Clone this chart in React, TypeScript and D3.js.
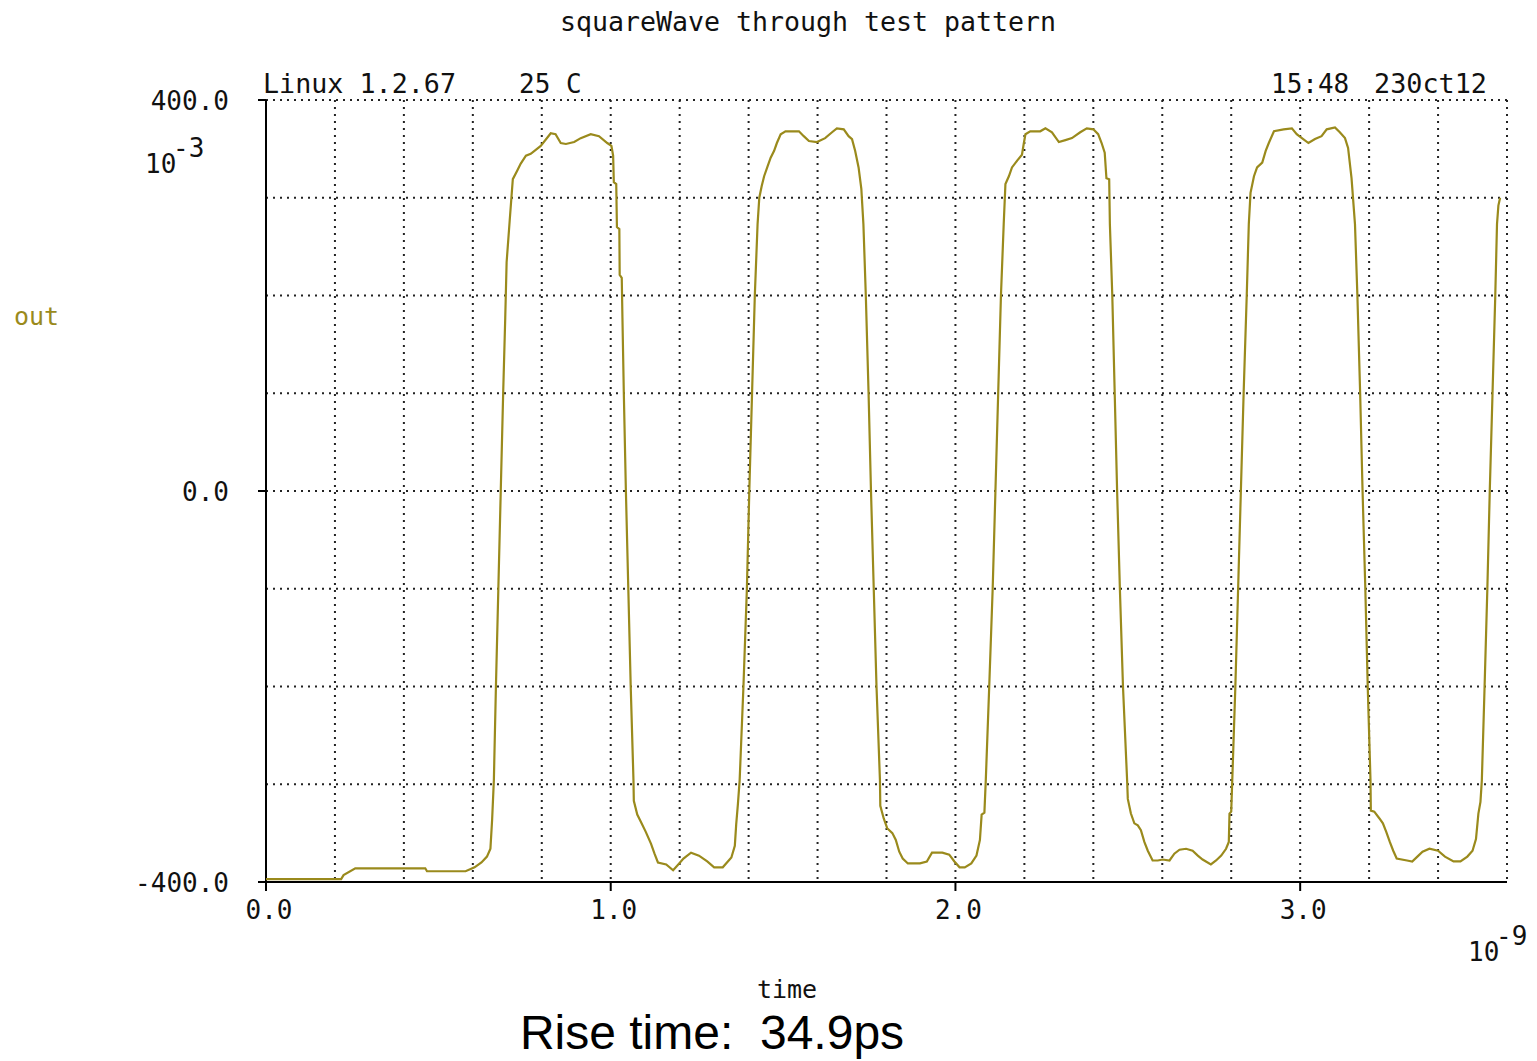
import React from "react";
import * as d3 from "d3";

const timeNs: number[] = [
  0, 0.218, 0.225, 0.259, 0.462, 0.467, 0.579, 0.605, 0.625, 0.641, 0.651, 0.656, 0.661,
  0.667, 0.674, 0.681, 0.688, 0.694, 0.698, 0.707, 0.716, 0.729, 0.739, 0.754, 0.768, 0.797, 0.826, 0.84, 0.855, 0.87, 0.894, 0.913, 0.942, 0.966, 0.99, 1.002, 1.007, 1.009, 1.016, 1.018, 1.025, 1.026, 1.032, 1.034,
  1.038, 1.044, 1.051, 1.058, 1.066, 1.067, 1.077, 1.087, 1.102, 1.117, 1.127, 1.137, 1.161, 1.181, 1.196, 1.211, 1.233, 1.256, 1.28, 1.3, 1.325, 1.35, 1.36, 1.364, 1.369, 1.374,
  1.385, 1.395, 1.402, 1.41, 1.418, 1.426, 1.431, 1.438, 1.445, 1.455, 1.464, 1.474, 1.482, 1.493, 1.507, 1.546, 1.56, 1.575, 1.598, 1.622, 1.642, 1.656, 1.676, 1.69, 1.7, 1.709, 1.719, 1.727, 1.733,
  1.74, 1.748, 1.755, 1.763, 1.771, 1.781, 1.782, 1.792, 1.802, 1.817, 1.827, 1.837, 1.847, 1.862, 1.897, 1.917, 1.932, 1.962, 1.982, 1.997, 2.012, 2.027, 2.046, 2.061, 2.071, 2.076, 2.084, 2.088,
  2.098, 2.108, 2.116, 2.124, 2.132, 2.14, 2.145, 2.155, 2.164, 2.179, 2.193, 2.198, 2.203, 2.217, 2.246, 2.261, 2.28, 2.3, 2.319, 2.338, 2.362, 2.381, 2.4, 2.414, 2.424, 2.433, 2.438, 2.446, 2.448,
  2.455, 2.462, 2.469, 2.477, 2.486, 2.498, 2.5, 2.509, 2.519, 2.529, 2.538, 2.548, 2.558, 2.572, 2.587, 2.601, 2.621, 2.635, 2.65, 2.669, 2.688, 2.703, 2.717, 2.741, 2.756, 2.771, 2.785, 2.793, 2.795, 2.8, 2.803,
  2.812, 2.82, 2.828, 2.836, 2.845, 2.851, 2.856, 2.866, 2.875, 2.89, 2.9, 2.909, 2.924, 2.952, 2.976, 2.99, 3.005, 3.024, 3.043, 3.062, 3.077, 3.101, 3.115, 3.13, 3.139, 3.149, 3.159,
  3.166, 3.174, 3.181, 3.189, 3.196, 3.204, 3.205, 3.215, 3.23, 3.24, 3.25, 3.26, 3.27, 3.28, 3.31, 3.325, 3.34, 3.355, 3.375, 3.4, 3.42, 3.445, 3.465, 3.485, 3.5, 3.51, 3.517, 3.523, 3.527,
  3.535, 3.543, 3.55, 3.558, 3.566, 3.571, 3.575, 3.58,
];

const outMv: number[] = [
  -397, -397, -393, -386, -386, -389, -389, -385, -380, -374, -366, -336, -296,
  -200, -100, 0, 100, 177, 234, 277, 319, 328, 335, 343, 345, 353, 366, 365, 356, 355, 357, 361, 365, 363, 356, 353, 343, 316, 314, 270, 268, 221, 218, 177,
  100, 0, -100, -200, -296, -317, -331, -338, -349, -361, -371, -380, -382, -388, -382, -376, -370, -373, -379, -385, -385, -375, -363, -341, -320, -296,
  -200, -100, 0, 100, 200, 273, 300, 312, 322, 332, 341, 348, 356, 365, 368, 368, 363, 358, 357, 361, 367, 371, 370, 363, 360, 348, 331, 309, 273,
  200, 100, 0, -100, -200, -296, -322, -335, -345, -350, -357, -369, -376, -381, -381, -379, -370, -370, -372, -379, -385, -385, -381, -373, -357, -331, -329, -296,
  -200, -100, 0, 100, 200, 273, 314, 322, 331, 338, 344, 355, 365, 368, 368, 371, 367, 357, 359, 361, 367, 371, 370, 365, 356, 346, 320, 319, 273,
  200, 100, 0, -100, -200, -296, -315, -330, -340, -342, -347, -359, -368, -378, -378, -377, -378, -371, -367, -366, -368, -373, -377, -382, -378, -373, -366, -359, -330, -328, -296,
  -200, -100, 0, 100, 200, 273, 305, 322, 331, 336, 348, 356, 368, 370, 371, 365, 361, 356, 360, 363, 370, 372, 367, 361, 351, 320, 273,
  200, 100, 0, -100, -200, -296, -327, -328, -335, -340, -349, -359, -368, -376, -378, -379, -374, -369, -366, -368, -374, -379, -379, -374, -368, -356, -330, -318, -296,
  -200, -100, 0, 100, 200, 273, 292, 300,
];

const xGridValues: number[] = d3.range(1, 19).map((i) => i * 0.2);
const yGridValues: number[] = [-300, -200, -100, 0, 100, 200, 300, 400];
const xTickValues: number[] = [0, 1, 2, 3];
const xTickLabels: string[] = ["0.0", "1.0", "2.0", "3.0"];
const yTickValues: number[] = [400, 0, -400];
const yTickLabels: string[] = ["400.0", "0.0", "-400.0"];

const W = 1537;
const H = 1061;
const MONO = "'DejaVu Sans Mono', 'Liberation Mono', monospace";
const OLIVE = "#9a8a1c";

export default function App() {
  const x = d3.scaleLinear().domain([0, 3.6]).range([266, 1507]);
  const y = d3.scaleLinear().domain([-400, 400]).range([882, 100]);
  const pts: [number, number][] = timeNs.map((t, i) => [t, outMv[i]]);
  const line = d3
    .line<[number, number]>()
    .x((d) => x(d[0]))
    .y((d) => y(d[1]))
    .curve(d3.curveLinear);

  const dot = { stroke: "#222", strokeWidth: 2, strokeDasharray: "2 5" };

  return (
    <svg
      width={W}
      height={H}
      viewBox={`0 0 ${W} ${H}`}
      style={{ position: "absolute", left: 0, top: 0, background: "#fff" }}
      fontFamily={MONO}
    >
      <rect x={0} y={0} width={W} height={H} fill="#fff" />
      <text x={560} y={31} fontSize={26} textLength={496} lengthAdjust="spacingAndGlyphs" fill="#111">
        squareWave through test pattern
      </text>
      <text x={263} y={93} fontSize={26} textLength={193} lengthAdjust="spacingAndGlyphs" fill="#111">Linux 1.2.67</text>
      <text x={519} y={93} fontSize={26} fill="#111">25 C</text>
      <text x={1271} y={93} fontSize={26} fill="#111">15:48</text>
      <text x={1374} y={93} fontSize={26} textLength={113} lengthAdjust="spacingAndGlyphs" fill="#111">230ct12</text>

      {/* grid */}
      {yGridValues.map((v) => (
        <line key={"hy" + v} x1={x(0)} x2={x(3.6)} y1={y(v)} y2={y(v)} {...dot} />
      ))}
      {xGridValues.map((v) => (
        <line key={"vx" + v} x1={x(v)} x2={x(v)} y1={y(400)} y2={y(-400)} {...dot} />
      ))}

      {/* axes */}
      <line x1={x(0)} x2={x(0)} y1={y(400)} y2={y(-400) + 1} stroke="#000" strokeWidth={2} />
      <line x1={x(0)} x2={x(3.6)} y1={y(-400)} y2={y(-400)} stroke="#000" strokeWidth={2} />
      {xTickValues.map((v, i) => (
        <g key={"xt" + v}>
          <line x1={x(v)} x2={x(v)} y1={y(-400)} y2={y(-400) + 9} stroke="#000" strokeWidth={2} />
          <text x={x(v) + 3} y={919} fontSize={26} textAnchor="middle" fill="#111">
            {xTickLabels[i]}
          </text>
        </g>
      ))}
      {yTickValues.map((v, i) => (
        <g key={"yt" + v}>
          <line x1={x(0) - 8} x2={x(0)} y1={y(v)} y2={y(v)} stroke="#000" strokeWidth={2} />
          <text x={229} y={y(v) + 10} fontSize={26} textAnchor="end" fill="#111">
            {yTickLabels[i]}
          </text>
        </g>
      ))}

      {/* exponents */}
      <text x={145} y={173} fontSize={26} fill="#111">10</text>
      <text x={173} y={157} fontSize={26} fill="#111">-3</text>
      <text x={1468} y={961} fontSize={26} fill="#111">10</text>
      <text x={1496} y={945} fontSize={26} fill="#111">-9</text>

      {/* labels */}
      <text x={14} y={325} fontSize={25} fill={OLIVE}>out</text>
      <text x={787} y={998} fontSize={25} textAnchor="middle" fill="#111">time</text>

      {/* waveform */}
      <path d={line(pts) ?? ""} fill="none" stroke={OLIVE} strokeWidth={2.2} strokeLinejoin="miter" />

      <text
        x={712}
        y={1049}
        fontSize={48}
        textAnchor="middle"
        fill="#000"
        fontFamily="'Liberation Sans', Arial, sans-serif"
        style={{ whiteSpace: "pre" }}
      >
        {"Rise time:  34.9ps"}
      </text>
    </svg>
  );
}
